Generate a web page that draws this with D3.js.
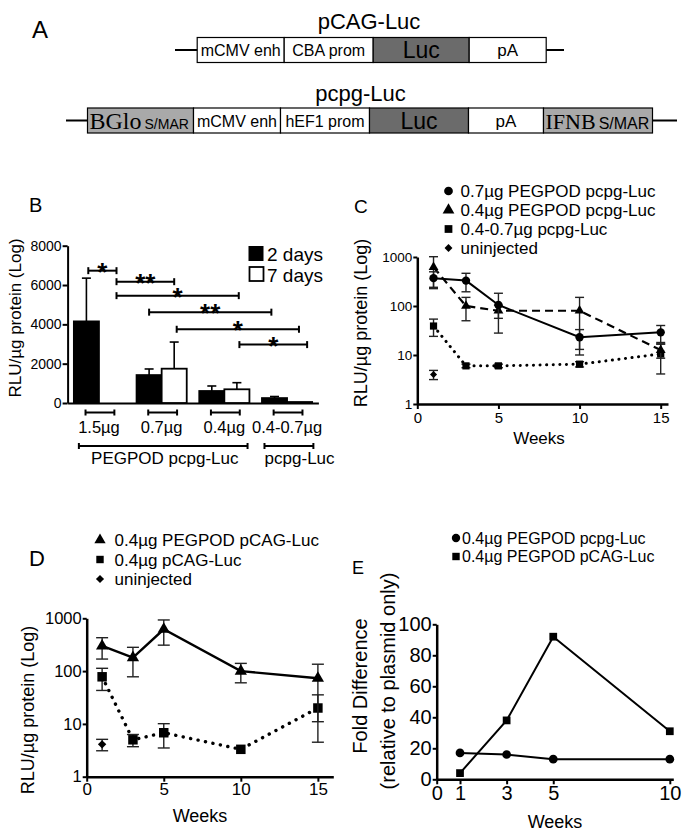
<!DOCTYPE html>
<html><head><meta charset="utf-8">
<script src="https://cdn.jsdelivr.net/npm/d3@7"></script>
<style>
body{margin:0;background:#fff}
</style>
</head><body>
<svg id="fig" width="683" height="835" xmlns="http://www.w3.org/2000/svg" font-family="'Liberation Sans', Arial, Helvetica, sans-serif"></svg>
<script>
// ================= DATA =================
// Panel A: plasmid maps (element names and relative lengths)
const pcagParts = ["mCMV enh", "CBA prom", "Luc", "pA"];
const pcagLengths = [87, 89, 96, 77];
const pcpgParts = ["BGlo S/MAR", "mCMV enh", "hEF1 prom", "Luc", "pA", "IFNB S/MAR"];
const pcpgLengths = [106, 87, 89, 99, 75, 109];

// Panel B: bar chart
const doseGroups = ["1.5\u00b5g", "0.7\u00b5g", "0.4\u00b5g", "0.4-0.7\u00b5g"];
const day2Mean = [4150, 1420, 610, 250];
const day2Sem = [2200, 310, 255, 80];
const day7Mean = [0, 1745, 697, 50];
const day7Sem = [0, 1355, 336, 0];
const bTicks = [0, 2000, 4000, 6000, 8000];
const bSeries = ["2 days", "7 days"];
const sigFrom = [-0.17, 0.28, 0.28, 0.80, 1.24, 2.24];
const sigTo = [0.28, 1.20, 2.23, 2.75, 3.19, 3.32];
const sigLevel = [6730, 6170, 5460, 4620, 3750, 2970];
const sigLabel = ["*", "**", "*", "**", "*", "*"];
const formulations = ["PEGPOD pcpg-Luc", "pcpg-Luc"];
const formFrom = [-0.32, 2.64];
const formTo = [2.37, 3.42];
const formLabelAt = [1.05, 3.2];

// Panel C
const cWeeks = [1, 3, 5, 10, 15];
const cPeg07 = [370, 330, 105, 23, 29];
const cPeg07Sem = [129, 135, 77, 10, 11];
const cPeg04 = [620, 100, 80, 80, 12.6];
const cPeg04Sem = [394, 50, 24, 70, 4];
const cNaked = [39, 6, 6, 6.5, 10.5];
const cNakedSem = [15, 0.5, 0.5, 0.8, 6.4];
const cUninjWeeks = [1];
const cUninj = [4.0];
const cUninjSem = [0.85];
const cLegend = ["0.7\u00b5g PEGPOD pcpg-Luc", "0.4\u00b5g PEGPOD pcpg-Luc", "0.4-0.7\u00b5g pcpg-Luc", "uninjected"];

// Panel D
const dWeeks = [1, 3, 5, 10, 15];
const dPeg = [299, 180, 620, 100, 73];
const dPegSem = [130, 102, 310, 40, 62];
const dNaked = [78, 5.0, 6.8, 3.3, 20];
const dNakedSem = [35, 1.3, 3.3, 0, 15.5];
const dUninjWeeks = [1];
const dUninj = [4.1];
const dUninjSem = [1.0];
const dLegend = ["0.4\u00b5g PEGPOD pCAG-Luc", "0.4\u00b5g pCAG-Luc", "uninjected"];

// Log axis ticks / week ticks
const logTicks = [1, 10, 100, 1000];
const weekTicks = [0, 5, 10, 15];

// Panel E
const eWeeks = [1, 3, 5, 10];
const ePcpg = [17, 16, 13, 13];
const ePcag = [4, 38, 92, 31];
const eXTicks = [0, 1, 3, 5, 10];
const eYTicks = [0, 20, 40, 60, 80, 100];
const eLegend = ["0.4\u00b5g PEGPOD pcpg-Luc", "0.4\u00b5g PEGPOD pCAG-Luc"];

// ================= DRAWING =================
const FONT = "'Liberation Sans', Arial, Helvetica, sans-serif";
const SERIF = "'Liberation Serif', 'Times New Roman', serif";
const svg = d3.select("#fig");

function txt(g, x, y, s, size, opts = {}) {
  const t = g.append("text").attr("x", x).attr("y", y).attr("font-size", size)
    .attr("font-family", opts.family || FONT).attr("fill", "#000").text(s);
  if (opts.anchor) t.attr("text-anchor", opts.anchor);
  if (opts.weight) t.attr("font-weight", opts.weight);
  return t;
}
function rotLabel(g, cx, cy, s, size) {
  return g.append("text").attr("transform", `translate(${cx},${cy}) rotate(-90)`)
    .attr("text-anchor", "middle").attr("dy", "0.35em").attr("font-size", size)
    .attr("font-family", FONT).text(s);
}
function styleAxis(g, size, domW) {
  g.attr("font-family", FONT).attr("font-size", size);
  g.select(".domain").attr("stroke", "#000").attr("stroke-width", domW);
  g.selectAll(".tick line").attr("stroke", "#000").attr("stroke-width", 2);
  g.selectAll(".tick text").attr("fill", "#000");
}
const sym = {
  circle: d3.symbolCircle, triangle: d3.symbolTriangle,
  square: d3.symbolSquare, diamond: d3.symbolDiamond2
};
function marker(g, x, y, type, size) {
  g.append("path").attr("transform", `translate(${x},${y})`)
    .attr("d", d3.symbol().type(sym[type]).size(size)()).attr("fill", "#000");
}

// ---------- Panel A ----------
const A = svg.append("g");
txt(A, 32, 38, "A", 24);
function plasmid(parts, lengths, start, yTop, h, lineFrom, lineTo) {
  const total = d3.sum(lengths);
  const sx = d3.scaleLinear().domain([0, total]).range([start, start + total]);
  const cy = yTop + h / 2;
  A.append("line").attr("x1", lineFrom).attr("x2", lineTo).attr("y1", cy).attr("y2", cy)
    .attr("stroke", "#000").attr("stroke-width", 2.2);
  let acc = 0;
  parts.forEach((p, i) => {
    const x0 = sx(acc), x1 = sx(acc + lengths[i]);
    acc += lengths[i];
    const fill = p === "Luc" ? "#6b6b6b" : (p.includes("S/MAR") ? "#a9a9a9" : "#fff");
    A.append("rect").attr("x", x0).attr("y", yTop).attr("width", x1 - x0).attr("height", h)
      .attr("fill", fill).attr("stroke", "#000").attr("stroke-width", 1.2);
    if (p.includes("S/MAR")) {
      const [big, small] = p.split(" ");
      const t = A.append("text").attr("x", x0 + 2).attr("y", cy + 8).attr("fill", "#000");
      t.append("tspan").attr("font-family", SERIF)
        .attr("font-size", big === "BGlo" ? 24 : 22).text(big);
      t.append("tspan").attr("font-family", FONT)
        .attr("font-size", big === "BGlo" ? 14 : 16).attr("dx", 3).text(small);
    } else if (p === "Luc") {
      txt(A, (x0 + x1) / 2, cy + 8, p, 23, { anchor: "middle" });
    } else if (p === "pA") {
      txt(A, (x0 + x1) / 2, cy + 6, p, 17, { anchor: "middle" });
    } else {
      txt(A, (x0 + x1) / 2, cy + 6, p, 16, { anchor: "middle" });
    }
  });
}
txt(A, 369, 29, "pCAG-Luc", 22, { anchor: "middle" });
plasmid(pcagParts, pcagLengths, 197.2, 37.5, 25, 175, 564);
txt(A, 360.5, 101, "pcpg-Luc", 22, { anchor: "middle" });
plasmid(pcpgParts, pcpgLengths, 87.5, 108, 25, 66, 677);

// ---------- Panel B ----------
const B = svg.append("g");
txt(B, 29, 212, "B", 20);
const bx = d3.scaleLinear().domain([-0.5, 3.5]).range([67.6, 318.4]);
const by = d3.scaleLinear().domain([0, 8000]).range([403, 245.7]);
const bw = bx(0.4) - bx(0);
const bxa = B.append("g").attr("transform", `translate(0,${by(0)})`)
  .call(d3.axisBottom(bx).tickValues([]).tickSizeOuter(0));
styleAxis(bxa, 14, 2);
const bya = B.append("g").attr("transform", `translate(${bx(-0.5)},0)`)
  .call(d3.axisLeft(by).tickValues(bTicks).tickSize(5).tickPadding(1).tickSizeOuter(0).tickFormat(d3.format("d")));
styleAxis(bya, 14, 2);
rotLabel(B, 15, 318, "RLU/\u00b5g protein (Log)", 17);
function bars(means, sems, offset, fill) {
  means.forEach((m, i) => {
    if (m <= 0) return;
    const x0 = bx(i + offset);
    B.append("rect").attr("x", x0).attr("y", by(m)).attr("width", bw)
      .attr("height", by(0) - by(m)).attr("fill", fill).attr("stroke", "#000").attr("stroke-width", 1.8);
    if (sems[i] > 0) {
      const xc = x0 + bw / 2;
      B.append("line").attr("x1", xc).attr("x2", xc).attr("y1", by(m)).attr("y2", by(m + sems[i]))
        .attr("stroke", "#000").attr("stroke-width", 1.6);
      B.append("line").attr("x1", xc - 4.5).attr("x2", xc + 4.5).attr("y1", by(m + sems[i])).attr("y2", by(m + sems[i]))
        .attr("stroke", "#000").attr("stroke-width", 1.6);
    }
  });
}
bars(day2Mean, day2Sem, -0.4, "#000");
bars(day7Mean, day7Sem, 0, "#fff");
function hbracket(g, x1, x2, y, capH) {
  g.append("line").attr("x1", x1).attr("x2", x2).attr("y1", y).attr("y2", y).attr("stroke", "#000").attr("stroke-width", 2);
  [x1, x2].forEach(x => g.append("line").attr("x1", x).attr("x2", x).attr("y1", y - capH).attr("y2", y + capH)
    .attr("stroke", "#000").attr("stroke-width", 2));
}
sigLabel.forEach((s, i) => {
  const y = by(sigLevel[i]);
  hbracket(B, bx(sigFrom[i]), bx(sigTo[i]), y, 3.5);
  txt(B, (bx(sigFrom[i]) + bx(sigTo[i])) / 2, y + 10, s, 26, { anchor: "middle", weight: "bold" });
});
doseGroups.forEach((gname, i) => {
  hbracket(B, bx(i - 0.23) + 1, bx(i + 0.23) + 1, by(0) + 9.5, 3);
  txt(B, bx(i), 433, gname, 16.5, { anchor: "middle" });
});
formulations.forEach((f, i) => {
  hbracket(B, bx(formFrom[i]), bx(formTo[i]), 446, 3);
  txt(B, bx(formLabelAt[i]), 463.5, f, 17, { anchor: "middle" });
});
B.append("rect").attr("x", 248.5).attr("y", 246).attr("width", 15).attr("height", 15).attr("fill", "#000");
B.append("rect").attr("x", 249.5).attr("y", 267).attr("width", 14).attr("height", 14).attr("fill", "#fff")
  .attr("stroke", "#000").attr("stroke-width", 1.8);
txt(B, 267, 261, bSeries[0], 19);
txt(B, 267, 281.5, bSeries[1], 19);

// ---------- line-chart helper ----------
function series(g, x, y, weeks, means, sems, opts) {
  const pts = weeks.map((w, i) => ({ w, m: means[i], s: sems[i] }));
  if (pts.length > 1) {
    g.append("path").datum(pts)
      .attr("d", d3.line().x(d => x(d.w)).y(d => y(d.m)))
      .attr("fill", "none").attr("stroke", "#000").attr("stroke-width", opts.width || 2)
      .attr("stroke-dasharray", opts.dash || null)
      .attr("stroke-linecap", opts.dotted ? "round" : "butt");
  }
  pts.forEach(d => {
    if (!d.s) return;
    const lo = Math.max(d.m - d.s, y.domain()[0]), hi = d.m + d.s;
    const xc = x(d.w), cw = opts.cap || 4.5;
    g.append("line").attr("x1", xc).attr("x2", xc).attr("y1", y(lo)).attr("y2", y(hi))
      .attr("stroke", "#222").attr("stroke-width", 1.4);
    [lo, hi].forEach(v => g.append("line").attr("x1", xc - cw).attr("x2", xc + cw)
      .attr("y1", y(v)).attr("y2", y(v)).attr("stroke", "#222").attr("stroke-width", 1.4));
  });
  pts.forEach(d => marker(g, x(d.w), y(d.m), opts.symbol, opts.size));
}

// ---------- Panel C ----------
const C = svg.append("g");
txt(C, 354, 213, "C", 19);
const cx = d3.scaleLinear().domain([0, 15.45]).range([417.3, 668]);
const cy = d3.scaleLog().domain([1, 1000]).range([404, 257]);
const cxa = C.append("g").attr("transform", `translate(0,${cy(1)})`)
  .call(d3.axisBottom(cx).tickValues(weekTicks).tickSize(5).tickPadding(3).tickSizeOuter(0));
styleAxis(cxa, 15, 2.5);
const cya = C.append("g").attr("transform", `translate(${cx(0)},0)`)
  .call(d3.axisLeft(cy).tickValues(logTicks).tickSize(4).tickPadding(1).tickSizeOuter(0).tickFormat(d3.format("d")));
styleAxis(cya, 13.5, 2.5);
txt(C, 539, 444, "Weeks", 17, { anchor: "middle" });
rotLabel(C, 361, 323, "RLU/\u00b5g protein (Log)", 18);
series(C, cx, cy, cWeeks, cNaked, cNakedSem, { symbol: "square", size: 52, dash: "0.1,6.5", dotted: true, width: 3 });
series(C, cx, cy, cWeeks, cPeg04, cPeg04Sem, { symbol: "triangle", size: 42, dash: "8,5", width: 2.2 });
series(C, cx, cy, cWeeks, cPeg07, cPeg07Sem, { symbol: "circle", size: 55, width: 2 });
series(C, cx, cy, cUninjWeeks, cUninj, cUninjSem, { symbol: "diamond", size: 32 });
const cSyms = ["circle", "triangle", "square", "diamond"];
cLegend.forEach((s, i) => {
  const yy = 191 + i * 19;
  marker(C, 448.5, yy, cSyms[i], i === 3 ? 40 : 60);
  txt(C, 460.5, yy + 6, s, 17);
});

// ---------- Panel D ----------
const D = svg.append("g");
txt(D, 29, 566, "D", 22);
const dx = d3.scaleLinear().domain([0, 16]).range([86.7, 333.3]);
const dy = d3.scaleLog().domain([1, 1000]).range([776.7, 618.3]);
const dxa = D.append("g").attr("transform", `translate(0,${dy(1)})`)
  .call(d3.axisBottom(dx).tickValues(weekTicks).tickSize(5).tickPadding(1).tickSizeOuter(0));
styleAxis(dxa, 17, 2.5);
const dya = D.append("g").attr("transform", `translate(${dx(0)},0)`)
  .call(d3.axisLeft(dy).tickValues(logTicks).tickSize(4).tickPadding(1).tickSizeOuter(0).tickFormat(d3.format("d")));
styleAxis(dya, 16.5, 2.5);
txt(D, 200, 822, "Weeks", 18, { anchor: "middle" });
rotLabel(D, 28, 710, "RLU/\u00b5g protein (Log)", 18);
series(D, dx, dy, dWeeks, dNaked, dNakedSem, { symbol: "square", size: 90, dash: "0.1,7.5", dotted: true, width: 3.4, cap: 6 });
series(D, dx, dy, dWeeks, dPeg, dPegSem, { symbol: "triangle", size: 65, width: 2.4, cap: 6 });
series(D, dx, dy, dUninjWeeks, dUninj, dUninjSem, { symbol: "diamond", size: 45, cap: 6 });
const dSyms = ["triangle", "square", "diamond"];
dLegend.forEach((s, i) => {
  const yy = 540 + i * 19.5;
  marker(D, 100, yy, dSyms[i], i === 2 ? 42 : 55);
  txt(D, 114.5, yy + 6, s, 17);
});

// ---------- Panel E ----------
const E = svg.append("g");
txt(E, 352, 574, "E", 18);
const ex = d3.scaleLinear().domain([0, 10.15]).range([436.7, 673.3]);
const ey = d3.scaleLinear().domain([0, 100]).range([779.3, 624.3]);
const exa = E.append("g").attr("transform", `translate(0,${ey(0)})`)
  .call(d3.axisBottom(ex).tickValues(eXTicks).tickSize(5).tickPadding(1.5).tickSizeOuter(0));
styleAxis(exa, 20, 2.5);
const eya = E.append("g").attr("transform", `translate(${ex(0)},0)`)
  .call(d3.axisLeft(ey).tickValues(eYTicks).tickSize(4).tickPadding(1).tickSizeOuter(0));
styleAxis(eya, 20, 2.5);
txt(E, 555, 828, "Weeks", 18, { anchor: "middle" });
rotLabel(E, 360, 686, "Fold Difference", 20);
rotLabel(E, 388, 681, "(relative to plasmid only)", 20);
series(E, ex, ey, eWeeks, ePcpg, [0, 0, 0, 0], { symbol: "circle", size: 60, width: 2 });
series(E, ex, ey, eWeeks, ePcag, [0, 0, 0, 0], { symbol: "square", size: 60, width: 2 });
const eSyms = ["circle", "square"];
eLegend.forEach((s, i) => {
  const yy = 538 + i * 18.5;
  marker(E, 456, yy, eSyms[i], 55);
  txt(E, 462, yy + 5.5, s, 16);
});
</script>
</body></html>
